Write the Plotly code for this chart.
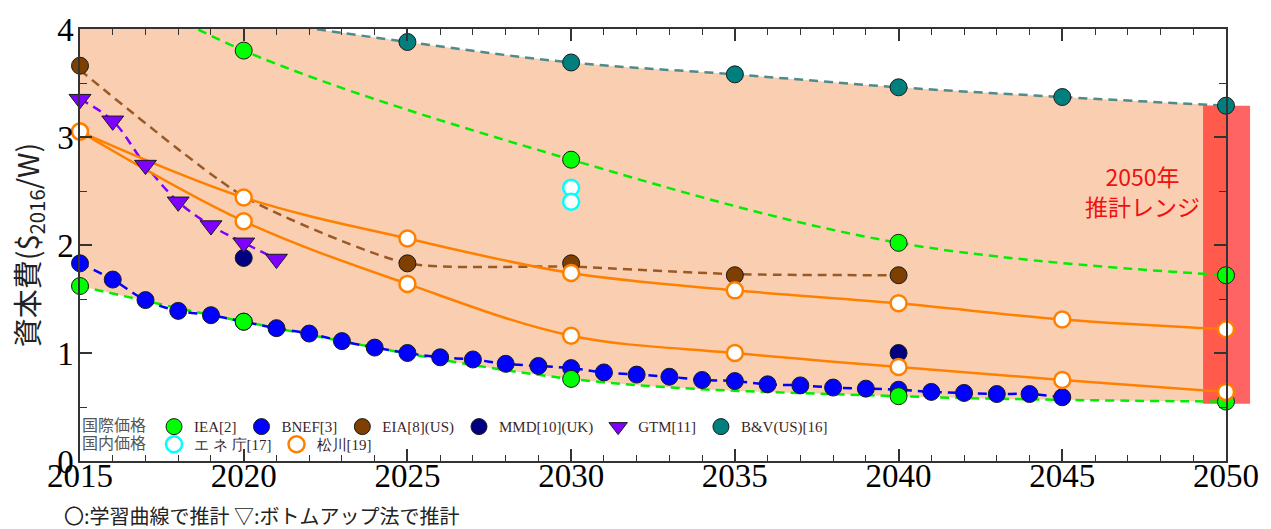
import plotly.graph_objects as go

# ---------------- data ----------------
iea_low_years = [2015, 2020, 2030, 2040, 2050]
iea_low = [1.62, 1.29, 0.76, 0.60, 0.55]
iea_high_years = [2020, 2030, 2040, 2050]
iea_high = [3.80, 2.79, 2.02, 1.72]
iea_high_fit_years = [2015, 2020, 2030, 2040, 2050]
iea_high_fit = [4.60, 3.80, 2.79, 2.02, 1.72]

bnef_years = list(range(2015, 2046))
bnef = [1.83, 1.68, 1.49, 1.39, 1.35, 1.29, 1.23, 1.18, 1.11, 1.05, 1.00,
        0.96, 0.94, 0.90, 0.88, 0.86, 0.82, 0.80, 0.78, 0.75, 0.74, 0.71,
        0.70, 0.68, 0.67, 0.66, 0.64, 0.63, 0.62, 0.62, 0.59]

eia_years = [2015, 2025, 2030, 2035, 2040]
eia = [3.66, 1.83, 1.83, 1.72, 1.72]
eia_fit_years = [2015, 2020, 2025, 2030, 2035, 2040]
eia_fit = [3.62, 2.45, 1.83, 1.80, 1.73, 1.72]

mmd_years = [2020, 2040]
mmd = [1.88, 1.00]

gtm_years = [2015, 2016, 2017, 2018, 2019, 2020, 2021]
gtm = [3.35, 3.15, 2.74, 2.40, 2.18, 2.02, 1.87]

bv_years = [2025, 2030, 2035, 2040, 2045, 2050]
bv = [3.88, 3.69, 3.58, 3.46, 3.37, 3.29]
bv_fit_years = [2015, 2020, 2025, 2030, 2035, 2040, 2045, 2050]
bv_fit = [4.35, 4.10, 3.88, 3.69, 3.58, 3.46, 3.37, 3.29]

ene_years = [2030, 2030]
ene = [2.53, 2.40]

mk_years = [2015, 2020, 2025, 2030, 2035, 2040, 2045, 2050]
mk_high = [3.05, 2.44, 2.06, 1.74, 1.58, 1.46, 1.31, 1.22]
mk_low = [3.05, 2.22, 1.64, 1.16, 1.00, 0.87, 0.75, 0.64]

x_ticks = [2015, 2020, 2025, 2030, 2035, 2040, 2045, 2050]
y_ticks = [0, 1, 2, 3, 4]

# ---------------- styles ----------------
C_GREEN = "#00EE00"
C_GREEN_M = "#00FF00"
C_BLUE = "#0000FF"
C_BROWN_M = "#7F3F00"
C_BROWN_L = "#9A5A28"
C_NAVY = "#000080"
C_PURPLE = "#8000FF"
C_TEAL_M = "#007F7F"
C_TEAL_L = "#4F8A8C"
C_ORANGE = "#FF8000"
C_CYAN = "#00FFFF"
SERIF = "Liberation Serif, Times New Roman, serif"
JP = "Noto Sans CJK JP"
MS = 17

fig = go.Figure()

# envelope fill (between low IEA trend and B&V trend)
fig.add_trace(go.Scatter(x=iea_low_years, y=iea_low, mode="lines",
                         line=dict(width=0, shape="spline", color="rgba(0,0,0,0)"),
                         showlegend=False, hoverinfo="skip"))
fig.add_trace(go.Scatter(x=bv_fit_years, y=bv_fit, mode="lines", fill="tonexty",
                         fillcolor="#FACFB1",
                         line=dict(width=0, shape="spline", color="rgba(0,0,0,0)"),
                         showlegend=False, hoverinfo="skip"))

# 2050 range bar (height from lowest to highest 2050 estimates)
y_lo = min(iea_low[-1], mk_low[-1]) - 0.02
y_hi = bv[-1]
band_x0 = 2049.3
fig.add_trace(go.Scatter(x=[band_x0, 2050, 2050, band_x0, band_x0],
                         y=[y_lo, y_lo, y_hi, y_hi, y_lo], mode="lines",
                         fill="toself", fillcolor="#FF5A4C",
                         line=dict(width=0, color="rgba(0,0,0,0)"),
                         showlegend=False, hoverinfo="skip"))
fig.add_shape(type="rect", xref="x domain", yref="y domain",
              x0=0.995, x1=1.021, y0=y_lo / 4, y1=y_hi / 4,
              fillcolor="#FF6464", line=dict(width=0), layer="below")

def trend(x, y, color, dash="dash", width=2.5, smoothing=1.0):
    fig.add_trace(go.Scatter(x=x, y=y, mode="lines", showlegend=False,
                             hoverinfo="skip",
                             line=dict(color=color, width=width, dash=dash,
                                       shape="spline", smoothing=smoothing)))

DASH = "9px,6px"
trend(iea_high_fit_years, iea_high_fit, C_GREEN, DASH)
trend(iea_low_years, iea_low, C_GREEN, DASH)
trend(bnef_years, bnef, C_BLUE, DASH)
trend(eia_fit_years, eia_fit, C_BROWN_L, DASH, smoothing=0.6)
trend(gtm_years, gtm, C_PURPLE, DASH)
trend(bv_fit_years, bv_fit, C_TEAL_L, DASH)
trend(mk_years, mk_high, C_ORANGE, "solid", 2.5)
trend(mk_years, mk_low, C_ORANGE, "solid", 2.5)

def markers(x, y, name, fill, edge, symbol="circle", size=MS, ew=1, legend="legend", rank=1):
    fig.add_trace(go.Scatter(x=x, y=y, mode="markers", name=name, legend=legend,
                             legendrank=rank, cliponaxis=False,
                             marker=dict(symbol=symbol, size=size, color=fill,
                                         line=dict(color=edge, width=ew))))

markers(bnef_years, bnef, "BNEF[3]", C_BLUE, "#1a1a1a", rank=2)
markers(iea_low_years + iea_high_years, iea_low + iea_high, "IEA[2]", C_GREEN_M, "#1a1a1a", rank=1)
markers(eia_years, eia, "EIA[8](US)", C_BROWN_M, "#1a1a1a", rank=3)
markers(mmd_years, mmd, "MMD[10](UK)", C_NAVY, "#1a1a1a", rank=4)
markers(gtm_years, gtm, "GTM[11]", C_PURPLE, "#1a1a1a", symbol="triangle-down", size=19, rank=5)
markers(bv_years, bv, "B&V(US)[16]", C_TEAL_M, "#1a1a1a", rank=6)
markers(ene_years, ene, "エ ネ 庁[17]", "white", C_CYAN, size=16, ew=2.5, legend="legend2", rank=7)
markers(mk_years + mk_years, mk_high + mk_low, "松川[19]", "white", C_ORANGE, size=16, ew=2.5,
        legend="legend2", rank=8)

fig.add_annotation(x=2047.45, y=2.5, text="2050年<br>推計レンジ", showarrow=False,
                   font=dict(family=JP, size=23, color="#F01010"), align="center")

fig.add_annotation(xref="paper", yref="paper", x=-0.016, y=-0.1267, xanchor="left",
                   yanchor="middle", showarrow=False,
                   text="〇:学習曲線で推計 ▽:ボトムアップ法で推計",
                   font=dict(family=JP, size=20, color="#222222"))

axis_common = dict(showline=True, linecolor="#333333", linewidth=1.5, mirror="ticks",
                   ticks="inside", tickcolor="#333333", tickwidth=1.5, ticklen=12,
                   showgrid=False, zeroline=False, layer="above traces",
                   tickfont=dict(family=SERIF, size=33, color="#000000"))

fig.update_layout(
    width=1271, height=529,
    margin=dict(l=80, r=43, t=27, b=68),
    plot_bgcolor="white", paper_bgcolor="white",
    xaxis=dict(range=[2015, 2050], tickvals=x_ticks, ticklabelstandoff=-15,
               minor=dict(dtick=1, tick0=2015, ticks="inside", ticklen=6,
                          tickcolor="#333333", tickwidth=1.2),
               **axis_common),
    yaxis=dict(range=[0, 4], tickvals=y_ticks, ticklabelstandoff=-2,
               minor=dict(dtick=0.5, tick0=0, ticks="inside", ticklen=7,
                          tickcolor="#333333", tickwidth=1.2),
               title=dict(text="資本費($<sub>2016</sub>/W)", standoff=9,
                          font=dict(family=JP, size=29, color="#222222")),
               **axis_common),
    legend=dict(orientation="h", x=0.0, xanchor="left", y=0.079, yanchor="middle",
                bgcolor="rgba(0,0,0,0)", itemwidth=30, traceorder="normal",
                title=dict(text="国際価格", side="left",
                           font=dict(family=JP, size=16, color="#555555")),
                font=dict(family=SERIF, size=15, color="#3a1f2a")),
    legend2=dict(orientation="h", x=0.0, xanchor="left", y=0.038, yanchor="middle",
                 bgcolor="rgba(0,0,0,0)", itemwidth=30, traceorder="normal",
                 title=dict(text="国内価格", side="left",
                            font=dict(family=JP, size=16, color="#555555")),
                 font=dict(family=SERIF, size=15, color="#3a1f2a")),
)

fig.write_html("out.html")
